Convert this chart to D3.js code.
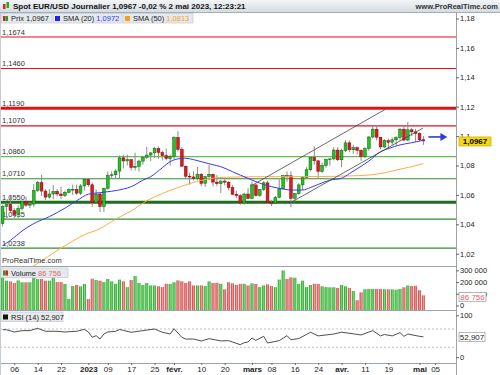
<!DOCTYPE html>
<html>
<head>
<meta charset="utf-8">
<script src="https://cdn.jsdelivr.net/npm/d3@7"></script>
<style>
  body { margin: 0; background: #fff; }
  svg { display: block; font-family: "Liberation Sans", Arial, sans-serif; }
  .tick text { fill: #222; }
</style>
</head>
<body>
<svg width="500" height="375"></svg>
<script>
// ---- data ----
const opens = [
  1.0405,1.0522,1.0535,1.0493,1.0467,1.0507,1.0556,1.0530,1.0537,1.0630,
  1.0683,1.0626,1.0585,1.0606,1.0624,1.0606,1.0595,1.0618,1.0636,1.0638,
  1.0612,1.0661,1.0705,1.0669,1.0548,1.0606,1.0521,1.0645,1.0733,1.0737,
  1.0762,1.0852,1.0831,1.0840,1.0786,1.0794,1.0830,1.0856,1.0871,1.0886,
  1.0915,1.0889,1.0867,1.0847,1.0862,1.0990,1.0910,1.0795,1.0727,1.0722,
  1.0713,1.0740,1.0678,1.0724,1.0740,1.0687,1.0676,1.0694,1.0687,1.0650,
  1.0604,1.0595,1.0545,1.0606,1.0576,1.0668,1.0596,1.0636,1.0682,1.0547,
  1.0545,1.0582,1.0641,1.0731,1.0730,1.0577,1.0609,1.0668,1.0718,1.0771,
  1.0855,1.0832,1.0760,1.0800,1.0842,1.0845,1.0905,1.0839,1.0902,1.0954,
  1.0907,1.0921,1.0903,1.0862,1.0914,1.0994,1.1047,1.0992,1.0926,1.0969,
  1.0958,1.0975,1.0990,1.1047,1.0973,1.1043,1.1029,1.1019,1.0975
];
const highs = [
  1.0534,1.0545,1.0595,1.0510,1.0528,1.0563,1.0589,1.0550,1.0673,1.0695,
  1.0737,1.0640,1.0640,1.0667,1.0640,1.0655,1.0630,1.0645,1.0670,1.0670,
  1.0673,1.0713,1.0715,1.0683,1.0637,1.0614,1.0650,1.0760,1.0760,1.0775,
  1.0868,1.0874,1.0875,1.0845,1.0887,1.0840,1.0860,1.0927,1.0890,1.0925,
  1.0930,1.0900,1.0915,1.0875,1.1000,1.1033,1.0925,1.0800,1.0750,1.0760,
  1.0790,1.0750,1.0730,1.0804,1.0745,1.0735,1.0700,1.0705,1.0692,1.0665,
  1.0628,1.0605,1.0615,1.0645,1.0691,1.0670,1.0640,1.0694,1.0696,1.0567,
  1.0592,1.0705,1.0736,1.0760,1.0760,1.0613,1.0680,1.0728,1.0788,1.0856,
  1.0930,1.0835,1.0820,1.0845,1.0850,1.0925,1.0925,1.0915,1.0973,1.0970,
  1.0940,1.0930,1.0910,1.0925,1.1000,1.1068,1.1076,1.0995,1.0980,1.0985,
  1.0990,1.1000,1.1055,1.1075,1.1095,1.1055,1.1050,1.1025,1.1000
];
const lows = [
  1.0385,1.0443,1.0485,1.0443,1.0443,1.0495,1.0520,1.0510,1.0520,1.0620,
  1.0593,1.0565,1.0575,1.0570,1.0590,1.0573,1.0585,1.0610,1.0600,1.0600,
  1.0600,1.0630,1.0655,1.0519,1.0540,1.0483,1.0484,1.0635,1.0710,1.0713,
  1.0708,1.0780,1.0800,1.0766,1.0766,1.0760,1.0805,1.0845,1.0830,1.0850,
  1.0845,1.0835,1.0835,1.0800,1.0843,1.0895,1.0792,1.0707,1.0670,1.0700,
  1.0700,1.0660,1.0655,1.0700,1.0658,1.0660,1.0613,1.0665,1.0630,1.0600,
  1.0577,1.0533,1.0535,1.0570,1.0575,1.0588,1.0586,1.0625,1.0537,1.0524,
  1.0540,1.0577,1.0640,1.0690,1.0516,1.0550,1.0600,1.0632,1.0715,1.0760,
  1.0805,1.0713,1.0750,1.0785,1.0800,1.0835,1.0830,1.0788,1.0890,1.0890,
  1.0880,1.0875,1.0831,1.0850,1.0900,1.0985,1.0970,1.0910,1.0920,1.0910,
  1.0940,1.0935,1.0970,1.0965,1.0965,1.1000,1.0960,1.0965,1.0940
];
const closes = [
  1.0522,1.0535,1.0493,1.0467,1.0507,1.0556,1.0530,1.0537,1.0630,1.0683,
  1.0626,1.0585,1.0606,1.0624,1.0606,1.0595,1.0618,1.0636,1.0638,1.0612,
  1.0661,1.0705,1.0669,1.0548,1.0606,1.0521,1.0645,1.0733,1.0737,1.0762,
  1.0852,1.0831,1.0840,1.0786,1.0794,1.0830,1.0856,1.0871,1.0886,1.0915,
  1.0889,1.0867,1.0847,1.0862,1.0990,1.0910,1.0795,1.0727,1.0722,1.0713,
  1.0740,1.0678,1.0724,1.0740,1.0687,1.0676,1.0694,1.0687,1.0650,1.0604,
  1.0595,1.0545,1.0606,1.0576,1.0668,1.0596,1.0636,1.0682,1.0547,1.0545,
  1.0582,1.0641,1.0731,1.0730,1.0577,1.0609,1.0668,1.0718,1.0771,1.0855,
  1.0832,1.0760,1.0800,1.0842,1.0845,1.0905,1.0839,1.0902,1.0954,1.0907,
  1.0921,1.0903,1.0862,1.0914,1.0994,1.1047,1.0992,1.0926,1.0969,1.0958,
  1.0975,1.0990,1.1047,1.0973,1.1043,1.1029,1.1019,1.0975,1.0967
];
// volume, thousands
const volumes = [
  249,212,206,192,214,198,198,198,235,226,
  226,212,212,243,200,200,184,55,166,175,
  164,184,55,228,217,212,200,226,206,185,
  221,206,157,217,251,192,175,192,171,171,
  164,157,185,184,198,214,206,192,206,171,
  171,171,166,206,192,194,185,138,198,189,
  175,185,185,171,189,184,157,171,180,166,
  157,221,299,226,240,237,184,212,157,175,
  185,184,164,157,155,155,150,175,164,150,
  123,45,112,138,141,141,141,141,138,138,
  138,135,141,155,171,166,168,130,86.756
].map(v => v * 1000);

// moving averages and RSI, read at [candle index, value]
const sma20 = [[0,1.0255],[2,1.0290],[5,1.0355],[8,1.0405],[12,1.0452],[16,1.0510],[19,1.0560],
  [22,1.0605],[25,1.0615],[28,1.0625],[31,1.0640],[33,1.0656],[36,1.0700],[38,1.0724],[41,1.0785],
  [43,1.0826],[45,1.0845],[47,1.0849],[49,1.0840],[51,1.0826],[54,1.0805],[56,1.0792],[59,1.0758],
  [61,1.0735],[64,1.0701],[66,1.0680],[69,1.0656],[72,1.0640],[74,1.0633],[77,1.0633],[79,1.0650],
  [82,1.0682],[84,1.0700],[87,1.0713],[89,1.0745],[92,1.0795],[94,1.0830],[97,1.0894],[99,1.0915],
  [102,1.0940],[105,1.0955],[108,1.0972]];
const sma50 = [[7,1.0100],[10,1.0150],[13,1.0205],[17,1.0270],[21,1.0330],[25,1.0370],[29,1.0435],
  [33,1.0490],[37,1.0560],[41,1.0610],[45,1.0650],[49,1.0685],[53,1.0710],[57,1.0720],[61,1.0722],
  [65,1.0724],[70,1.0724],[75,1.0724],[80,1.0725],[85,1.0726],[90,1.0730],[94,1.0735],[98,1.0750],
  [102,1.0775],[105,1.0792],[108,1.0813]];
const rsi = [[0,68.5],[1,68.5],[3,63.5],[5,66.4],[7,66.5],[9,71.5],[11,65],[14,65],[16,63.5],[19,65],
  [21,69.3],[22,63.5],[23,51.9],[24,55.4],[25,48.1],[26,59],[27,63.5],[29,65],[30,69],[31,67],
  [33,62.8],[36,66.4],[39,70],[41,63],[43,59],[44,70.7],[46,51.9],[47,48.1],[49,48],[51,43.8],
  [53,48.8],[56,44],[58,44.5],[61,35.7],[62,40],[63,41.6],[64,50.3],[65,45],[67,54],[68,39.4],
  [71,44.5],[73,55.4],[74,46.6],[76,49],[79,62.8],[81,55],[83,57],[85,59],[87,63],[90,59.5],
  [92,57],[95,66.4],[97,55],[98,58],[100,55],[102,62],[103,54],[104,59],[107,54],[108,52.907]];

const resistanceLevels = [1.1674, 1.1460, 1.1190, 1.1070];
const supportLevels = [1.0860, 1.0710, 1.0550, 1.0435, 1.0238];
const keyLevels = [1.1190, 1.0550];
const channelUpper = [[63.9, 1.0663], [98.2, 1.1182]];
const channelLower = [[73.5, 1.0541], [107.9, 1.1055]];

const priceTicks = [1.02, 1.04, 1.06, 1.08, 1.10, 1.12, 1.14, 1.16, 1.18];
const volumeTicks = [0, 100000, 200000, 300000];
const rsiTicks = [0, 100];
const tickDays = ['2022-12-06','2022-12-14','2022-12-22','2023-01-02','2023-01-09','2023-01-17',
  '2023-01-25','2023-02-01','2023-02-10','2023-02-20','2023-03-01','2023-03-08','2023-03-16',
  '2023-03-24','2023-04-03','2023-04-11','2023-04-19','2023-05-01','2023-05-05'];
const tickLabels = ['06','14','22','2023','09','17','25','févr.','10','20','mars','08','16','24',
  'avr.','11','19','mai','05'];
const boldLabels = ['2023','févr.','mars','avr.','mai'];

// trading days (weekdays) from 1 Dec 2022, extended a little past the last candle for the axis
const dayKey = d3.timeFormat('%Y-%m-%d');
const axisDays = d3.timeDay.range(new Date(2022, 11, 1), new Date(2023, 4, 13))
  .filter(d => d.getDay() !== 0 && d.getDay() !== 6);
const n = closes.length;
const lastClose = closes[n - 1];

// ---- layout ----
const svg = d3.select('svg');
const plotRight = 456;
const price = { top: 12, bottom: 266 };
const vol = { top: 266, bottom: 310 };
const osc = { top: 310, bottom: 363 };

const fr = d3.formatLocale({ decimal: ',', thousands: '\u00a0', grouping: [3], currency: ['', ''] });
const fmtPrice = fr.format('.2~f');
const fmt4 = fr.format('.4f');
const fmtInt = fr.format(',d');

const x = d3.scaleLinear().domain([0, 108]).range([2.6, 423.4]);
const y = d3.scaleLinear().domain([1.02, 1.18]).range([253.7, 18.5]);
const yVol = d3.scaleLinear().domain([0, 300000]).range([305.5, 270.3]);
const yRsi = d3.scaleLinear().domain([0, 100]).range([361, 315.3]);

const defs = svg.append('defs');
const hdr = defs.append('linearGradient').attr('id', 'hdr').attr('x1', 0).attr('x2', 0).attr('y1', 0).attr('y2', 1);
hdr.append('stop').attr('offset', 0).attr('stop-color', '#f3f5f7');
hdr.append('stop').attr('offset', 1).attr('stop-color', '#d5dce2');
[['gUp', '#169c16', '#7fdc7f'], ['gDn', '#c93a3a', '#f29a9a']].forEach(([id, a, b]) => {
  const g = defs.append('linearGradient').attr('id', id);
  g.append('stop').attr('offset', 0).attr('stop-color', a);
  g.append('stop').attr('offset', 0.55).attr('stop-color', b);
  g.append('stop').attr('offset', 1).attr('stop-color', a);
});
defs.append('clipPath').attr('id', 'clipPrice')
  .append('rect').attr('x', 0).attr('y', price.top).attr('width', plotRight).attr('height', price.bottom - price.top);
defs.append('clipPath').attr('id', 'clipVol')
  .append('rect').attr('x', 0).attr('y', vol.top).attr('width', plotRight).attr('height', vol.bottom - vol.top);

svg.append('rect').attr('width', 500).attr('height', 375).attr('fill', '#fff');

// ---- price panel ----
const gP = svg.append('g').attr('clip-path', 'url(#clipPrice)');

const levelColor = v => resistanceLevels.includes(v) ? '#e3101a' : (v === 1.0860 ? '#66bb55' : (keyLevels.includes(v) ? '#1d6e1d' : '#2f8f2f'));
const levels = resistanceLevels.concat(supportLevels);
gP.selectAll('line.lvl').data(levels).join('line')
  .attr('x1', 0).attr('x2', plotRight)
  .attr('y1', d => y(d)).attr('y2', d => y(d))
  .attr('stroke', levelColor)
  .attr('stroke-width', d => keyLevels.includes(d) ? 3 : 1.2);
gP.selectAll('text.lvl').data(levels).join('text')
  .attr('x', 2).attr('y', d => y(d) - 2.5)
  .attr('font-size', 7.5).attr('fill', '#333')
  .text(d => fmt4(d));

// candles
const up = i => closes[i] >= opens[i];
const candles = gP.selectAll('g.candle').data(d3.range(n)).join('g');
candles.append('line')
  .attr('x1', i => x(i)).attr('x2', i => x(i))
  .attr('y1', i => y(highs[i])).attr('y2', i => y(lows[i]))
  .attr('stroke', '#8a8a8a').attr('stroke-width', 1);
candles.append('rect')
  .attr('x', i => x(i) - 1.4).attr('width', 2.8)
  .attr('y', i => y(Math.max(opens[i], closes[i])))
  .attr('height', i => Math.max(0.8, Math.abs(y(opens[i]) - y(closes[i]))))
  .attr('fill', i => up(i) ? '#1fc41f' : '#e4161b')
  .attr('stroke', i => up(i) ? '#145c14' : '#7a1010')
  .attr('stroke-width', 0.5);

// moving averages
const line = d3.line().x(d => x(d[0])).y(d => y(d[1])).curve(d3.curveMonotoneX);
gP.append('path').datum(sma50).attr('d', line).attr('fill', 'none').attr('stroke', '#ffaa44').attr('stroke-width', 1);
gP.append('path').datum(sma20).attr('d', line).attr('fill', 'none').attr('stroke', '#3a3af0').attr('stroke-width', 1);

// channel
[channelUpper, channelLower].forEach(c => {
  gP.append('line')
    .attr('x1', x(c[0][0])).attr('y1', y(c[0][1]))
    .attr('x2', x(c[1][0])).attr('y2', y(c[1][1]))
    .attr('stroke', '#444').attr('stroke-width', 0.8);
});

// projection arrow
const ay = y(lastClose) - 4;
gP.append('line').attr('x1', x(n - 1) + 5).attr('x2', x(n - 1) + 19).attr('y1', ay).attr('y2', ay)
  .attr('stroke', '#2b3fe0').attr('stroke-width', 1.6);
gP.append('path')
  .attr('d', `M${x(n - 1) + 17},${ay - 4}L${x(n - 1) + 24},${ay}L${x(n - 1) + 17},${ay + 4}Z`)
  .attr('fill', '#2b3fe0');

gP.append('text').attr('x', 2).attr('y', 263).attr('font-size', 7.5).attr('fill', '#333').text('ProRealTime.com');

// ---- volume panel (bars stand on the panel floor) ----
const gV = svg.append('g').attr('clip-path', 'url(#clipVol)');
gV.selectAll('rect').data(d3.range(n)).join('rect')
  .attr('x', i => x(i) - 1.5).attr('width', 3)
  .attr('y', i => yVol(volumes[i]))
  .attr('height', i => vol.bottom - yVol(volumes[i]))
  .attr('fill', i => up(i) ? 'url(#gUp)' : 'url(#gDn)');

// ---- RSI panel ----
const gR = svg.append('g');
[70, 30].forEach(v => gR.append('line').attr('x1', 0).attr('x2', plotRight)
  .attr('y1', yRsi(v)).attr('y2', yRsi(v))
  .attr('stroke', '#b5b5b5').attr('stroke-dasharray', '2,2').attr('stroke-width', 0.8));
gR.append('path').datum(rsi)
  .attr('d', d3.line().x(d => x(d[0])).y(d => yRsi(d[1])))
  .attr('fill', 'none').attr('stroke', '#222').attr('stroke-width', 0.8);

// ---- frames and separators ----
const frame = svg.append('g').attr('stroke', '#9aa4ae').attr('stroke-width', 1);
[vol.top, osc.top].forEach(v => frame.append('line').attr('x1', 0).attr('x2', plotRight).attr('y1', v + 0.5).attr('y2', v + 0.5));
frame.append('line').attr('x1', 0).attr('x2', plotRight).attr('y1', osc.bottom + 0.5).attr('y2', osc.bottom + 0.5);
frame.append('line').attr('x1', plotRight + 0.5).attr('x2', plotRight + 0.5).attr('y1', price.top).attr('y2', 375);
frame.append('line').attr('x1', 0.5).attr('x2', 0.5).attr('y1', price.top).attr('y2', 375).attr('stroke', '#c5ccd3');

// ---- axes ----
function styleAxis(g) {
  g.select('.domain').remove();
  g.selectAll('.tick line').attr('stroke', '#666');
  g.selectAll('.tick text').attr('font-size', 7.5).attr('font-family', '"Liberation Sans", Arial, sans-serif');
}
svg.append('g').attr('transform', `translate(${plotRight},0)`)
  .call(d3.axisRight(y).tickValues(priceTicks).tickFormat(fmtPrice).tickSize(3).tickPadding(1))
  .call(styleAxis);
svg.append('g').attr('transform', `translate(${plotRight},0)`)
  .call(d3.axisRight(yVol).tickValues(volumeTicks).tickFormat(fmtInt).tickSize(3).tickPadding(1))
  .call(styleAxis);
svg.append('g').attr('transform', `translate(${plotRight},0)`)
  .call(d3.axisRight(yRsi).tickValues(rsiTicks).tickFormat(d3.format('d')).tickSize(3).tickPadding(1))
  .call(styleAxis)
  .call(g => g.selectAll('.tick').filter(d => d === 0).attr('transform', 'translate(0,357.7)'));

const tickIdx = tickDays.map(k => axisDays.findIndex(d => dayKey(d) === k));
svg.append('g').attr('transform', `translate(0,${osc.bottom})`)
  .call(d3.axisBottom(x).tickValues(tickIdx).tickFormat((d, i) => tickLabels[i]).tickSize(2).tickPadding(1))
  .call(styleAxis)
  .call(g => g.selectAll('.tick text')
    .attr('font-size', 8)
    .attr('font-weight', (d, i) => boldLabels.includes(tickLabels[i]) ? 'bold' : 'normal'));

// ---- value boxes on the right ----
function valueBox(cy, w, label, fill, stroke, color, bold) {
  const g = svg.append('g');
  g.append('rect').attr('x', 459).attr('y', cy - 4.5).attr('width', w).attr('height', 9)
    .attr('fill', fill).attr('stroke', stroke).attr('stroke-width', 0.7);
  g.append('text').attr('x', 459 + w / 2).attr('y', cy + 2.8).attr('text-anchor', 'middle')
    .attr('font-size', 8).attr('font-weight', bold ? 'bold' : 'normal').attr('fill', color).text(label);
}
valueBox(y(lastClose) + 0.5, 32, fmt4(lastClose), '#f6d80e', '#c9a800', '#000', true);
valueBox(yVol(volumes[n - 1]) + 1.5, 27, fmtInt(volumes[n - 1]), '#fff', '#999', '#e06666', false);
valueBox(yRsi(rsi[rsi.length - 1][1]), 26, fr.format('.3f')(rsi[rsi.length - 1][1]), '#fff', '#999', '#222', false);

// ---- header ----
svg.append('rect').attr('x', 0).attr('y', 0).attr('width', 500).attr('height', 12).attr('fill', 'url(#hdr)');
svg.append('line').attr('x1', 0).attr('x2', 500).attr('y1', 12.5).attr('y2', 12.5).attr('stroke', '#a3adb7');
// little candle icon
svg.append('rect').attr('x', 3).attr('y', 4).attr('width', 2.5).attr('height', 5).attr('fill', '#d22');
svg.append('rect').attr('x', 6.5).attr('y', 2).attr('width', 2.5).attr('height', 6).attr('fill', '#2a2');
svg.append('text').attr('x', 13).attr('y', 9).attr('font-size', 8).attr('font-weight', 'bold').attr('fill', '#111')
  .text('Spot EUR/USD Journalier 1,0967 -0,02 % 2 mai 2023, 12:23:21');
svg.append('text').attr('x', 498).attr('y', 9).attr('text-anchor', 'end').attr('font-size', 7.5)
  .attr('font-weight', 'bold').attr('fill', '#333').text('www.ProRealTime.com');

function legendBox(x0, w, yTop, parts, icon) {
  const g = svg.append('g');
  g.append('rect').attr('x', x0).attr('y', yTop).attr('width', w).attr('height', 9.5)
    .attr('fill', '#e6e9ec').attr('stroke', '#c3c8cd').attr('stroke-width', 0.7);
  icon(g, x0 + 2, yTop + 2.5);
  const t = g.append('text').attr('x', x0 + 10).attr('y', yTop + 7.5).attr('font-size', 7.5);
  parts.forEach(([s, c]) => t.append('tspan').attr('fill', c).text(s));
}
const splitIcon = (g, x0, y0) => {
  g.append('rect').attr('x', x0).attr('y', y0).attr('width', 2.5).attr('height', 5).attr('fill', '#1fa61f');
  g.append('rect').attr('x', x0 + 2.5).attr('y', y0).attr('width', 2.5).attr('height', 5).attr('fill', '#d92020');
};
const squareIcon = c => (g, x0, y0) => g.append('rect').attr('x', x0).attr('y', y0).attr('width', 5).attr('height', 5).attr('fill', c);

legendBox(1, 51, 13.5, [['Prix 1,0967', '#222']], (g, x0, y0) => {
  g.append('rect').attr('x', x0).attr('y', y0).attr('width', 2.5).attr('height', 5).attr('fill', '#d92020');
  g.append('rect').attr('x', x0 + 2.5).attr('y', y0).attr('width', 2.5).attr('height', 5).attr('fill', '#1fa61f');
});
legendBox(53, 69, 13.5, [['SMA (20) ', '#222'], [fmt4(sma20[sma20.length - 1][1]), '#3333ff']], squareIcon('#2222ee'));
legendBox(123, 70, 13.5, [['SMA (50) ', '#222'], [fmt4(sma50[sma50.length - 1][1]), '#ff9a1a']], squareIcon('#ff9a1a'));
legendBox(1, 67, 268, [['Volume ', '#222'], [fmtInt(volumes[n - 1]), '#e06666']], splitIcon);
legendBox(1, 62, 312, [['RSI (14) ' + fr.format('.3f')(rsi[rsi.length - 1][1]), '#222']], squareIcon('#111'));
</script>
</body>
</html>
